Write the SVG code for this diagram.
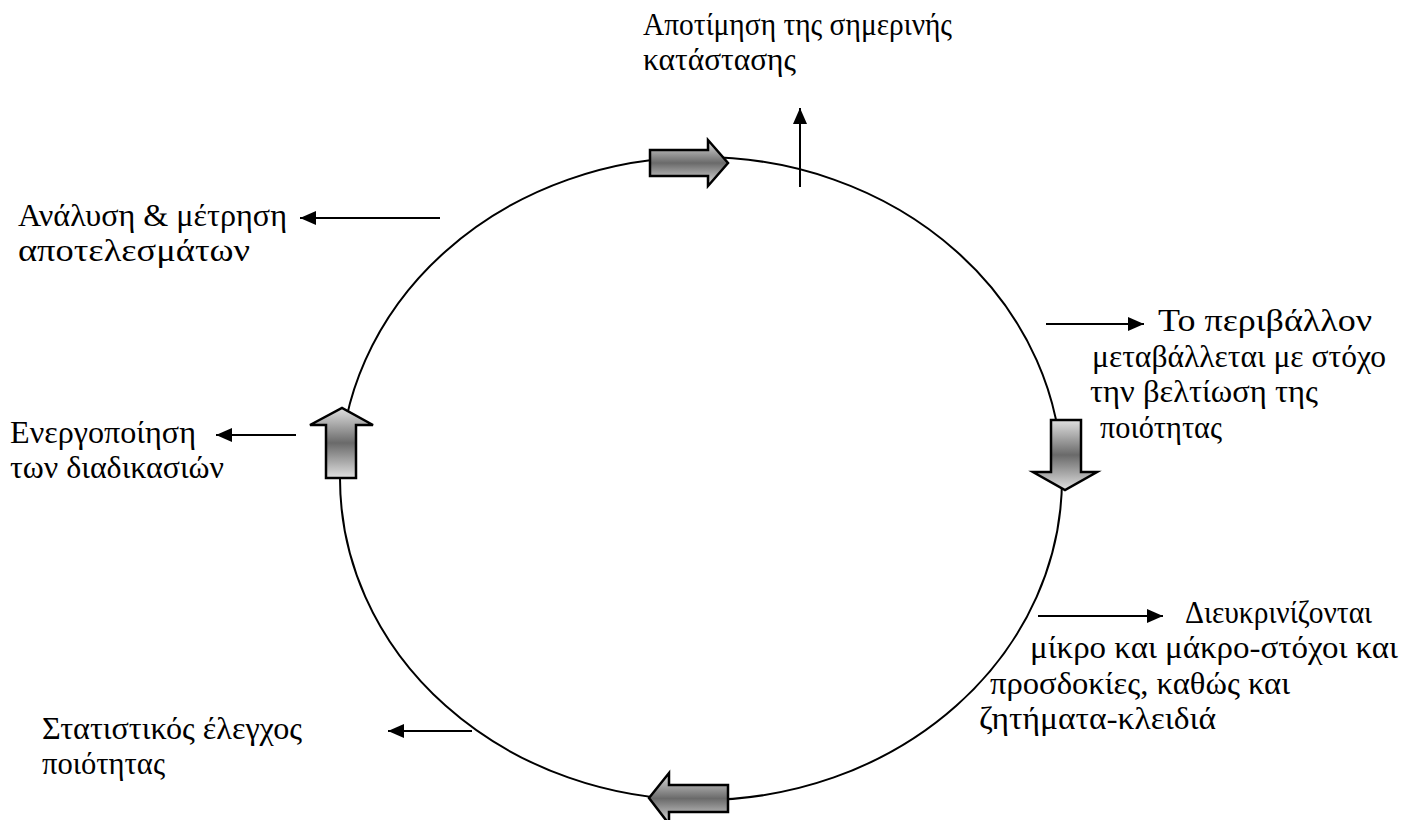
<svg xmlns="http://www.w3.org/2000/svg" width="1402" height="820" viewBox="0 0 1402 820">
  <style>
    .lbl { font-family: "Liberation Serif", "DejaVu Serif", serif; font-size: 31px; fill: #000; }
    .ring { fill: none; stroke: #000; stroke-width: 2; }
    .link { fill: none; stroke: #000; stroke-width: 2; }
    .block { fill: url(#shade); stroke: #000; stroke-width: 2.5; stroke-linejoin: miter; }
  </style>
  <defs>
    <linearGradient id="shade" x1="0" y1="0" x2="0" y2="1">
      <stop offset="0" stop-color="#e0e0e0"/>
      <stop offset="0.5" stop-color="#6a6a6a"/>
      <stop offset="1" stop-color="#e0e0e0"/>
    </linearGradient>
    <marker id="head" markerUnits="userSpaceOnUse" markerWidth="18" markerHeight="16" refX="16" refY="7" orient="auto">
      <path d="M0,0 L16,7 L0,14 Z" fill="#000"/>
    </marker>
  </defs>

  <!-- cycle ring -->
  <g id="cycle">
    <ellipse class="ring" cx="701" cy="478.5" rx="361" ry="321.5"/>
  </g>

  <!-- block arrows on the ring -->
  <g id="step-top">
    <polygon class="block" points="650,150 708,150 708,140 728,163 708,186 708,176 650,176"/>
  </g>
  <g id="step-right">
    <polygon class="block" points="1051,420 1081,420 1081,472 1097,472 1065,490 1033,472 1051,472"/>
  </g>
  <g id="step-bottom">
    <polygon class="block" points="728,785 669,785 669,773 649,798 669,824 669,812 728,812"/>
  </g>
  <g id="step-left">
    <polygon class="block" points="326,478 356,478 356,425 373,425 342,408 310,425 326,425"/>
  </g>

  <!-- connectors -->
  <g id="connectors">
    <line class="link" x1="800" y1="187" x2="800" y2="108" marker-end="url(#head)"/>
    <line class="link" x1="440" y1="218" x2="300" y2="218" marker-end="url(#head)"/>
    <line class="link" x1="1046" y1="324" x2="1144" y2="324" marker-end="url(#head)"/>
    <line class="link" x1="1038" y1="616" x2="1163" y2="616" marker-end="url(#head)"/>
    <line class="link" x1="296" y1="435" x2="216" y2="435" marker-end="url(#head)"/>
    <line class="link" x1="472" y1="731" x2="388" y2="731" marker-end="url(#head)"/>
  </g>

  <!-- labels -->
  <g id="label-top">
    <text class="lbl" x="643" y="35" textLength="309" lengthAdjust="spacingAndGlyphs">Αποτίμηση της σημερινής</text>
    <text class="lbl" x="643" y="70" textLength="153" lengthAdjust="spacingAndGlyphs">κατάστασης</text>
  </g>
  <g id="label-analysis">
    <text class="lbl" x="18" y="226" textLength="269" lengthAdjust="spacingAndGlyphs">Ανάλυση &amp; μέτρηση</text>
    <text class="lbl" x="18" y="261" textLength="232" lengthAdjust="spacingAndGlyphs">αποτελεσμάτων</text>
  </g>
  <g id="label-environment">
    <text class="lbl" x="1158" y="331" textLength="214" lengthAdjust="spacingAndGlyphs">Το περιβάλλον</text>
    <text class="lbl" x="1092" y="367" textLength="294" lengthAdjust="spacingAndGlyphs">μεταβάλλεται με στόχο</text>
    <text class="lbl" x="1090" y="402" textLength="228" lengthAdjust="spacingAndGlyphs">την βελτίωση της</text>
    <text class="lbl" x="1100" y="438" textLength="122" lengthAdjust="spacingAndGlyphs">ποιότητας</text>
  </g>
  <g id="label-goals">
    <text class="lbl" x="1185" y="623" textLength="187" lengthAdjust="spacingAndGlyphs">Διευκρινίζονται</text>
    <text class="lbl" x="1030" y="658" textLength="368" lengthAdjust="spacingAndGlyphs">μίκρο και μάκρο-στόχοι και</text>
    <text class="lbl" x="990" y="694" textLength="300" lengthAdjust="spacingAndGlyphs">προσδοκίες, καθώς και</text>
    <text class="lbl" x="979" y="729" textLength="237" lengthAdjust="spacingAndGlyphs">ζητήματα-κλειδιά</text>
  </g>
  <g id="label-activation">
    <text class="lbl" x="10" y="443" textLength="186" lengthAdjust="spacingAndGlyphs">Ενεργοποίηση</text>
    <text class="lbl" x="10" y="478" textLength="214" lengthAdjust="spacingAndGlyphs">των διαδικασιών</text>
  </g>
  <g id="label-control">
    <text class="lbl" x="42" y="739" textLength="260" lengthAdjust="spacingAndGlyphs">Στατιστικός έλεγχος</text>
    <text class="lbl" x="42" y="774" textLength="123" lengthAdjust="spacingAndGlyphs">ποιότητας</text>
  </g>
</svg>
